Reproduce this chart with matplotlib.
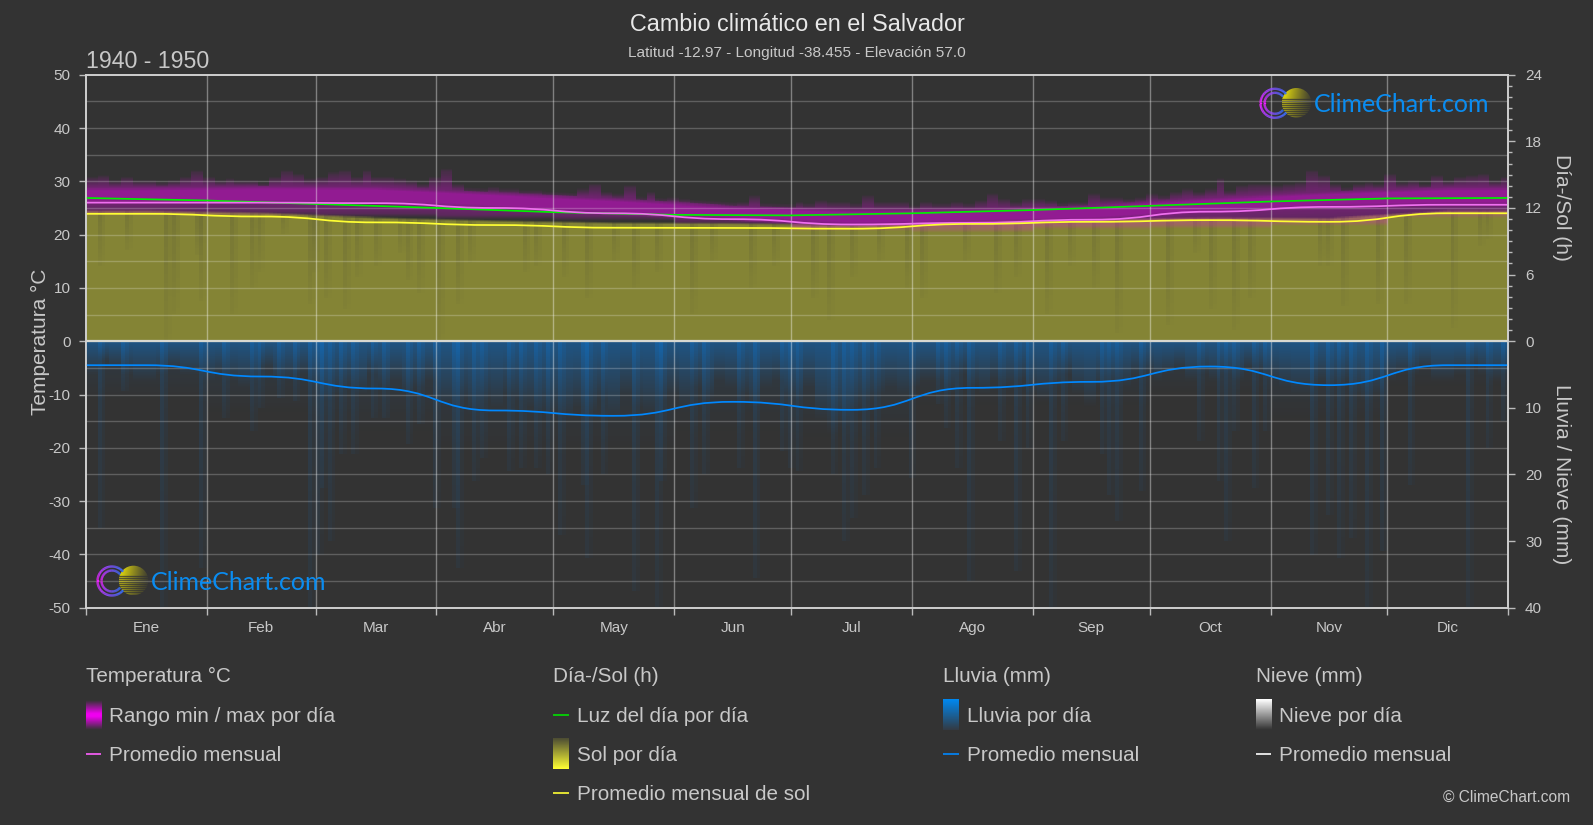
"""
Climate chart for Salvador, dark ClimeChart style
"""
import numpy as np
import matplotlib
matplotlib.use("Agg")
import matplotlib.pyplot as plt
from matplotlib.patches import Circle, PathPatch
from matplotlib.path import Path
from matplotlib.ticker import FixedLocator

plt.rcParams['font.family'] = ['Liberation Sans', 'DejaVu Sans']
plt.rcParams['axes.unicode_minus'] = False

BG = '#333333'
TXT = '#c8c8c8'
W, H = 1593, 825

months = ['Ene', 'Feb', 'Mar', 'Abr', 'May', 'Jun', 'Jul', 'Ago', 'Sep', 'Oct', 'Nov', 'Dic']
month_start = [0, 31, 59, 90, 120, 151, 181, 212, 243, 273, 304, 334, 365]

# monthly means
temp_mean = [26.0, 26.0, 25.9, 25.0, 24.0, 22.9, 21.9, 22.2, 22.8, 24.3, 25.2, 25.6]
sun_mean_h = [11.47, 11.23, 10.7, 10.46, 10.22, 10.2, 10.13, 10.56, 10.75, 10.9, 10.75, 11.52]
rain_mean_mm = [3.6, 5.3, 7.1, 10.4, 11.2, 9.1, 10.3, 7.0, 6.1, 3.8, 6.6, 3.6]
snow_mean_mm = [0, 0, 0, 0, 0, 0, 0, 0, 0, 0, 0, 0]

# daylight hours at month starts (last = Dec 31)
daylight_h = [12.9, 12.67, 12.36, 12.0, 11.62, 11.38, 11.33, 11.52, 11.81, 12.19, 12.58, 12.86, 12.9]

# top of the daily max haze, about every 3 days
tmax_top = [
    30.9, 31.2, 30.25, 30.9, 30.25, 30.25, 29.9, 30.25, 30.9, 32.1, 30.9, 30.25, 30.6, 30.25,
    30.25, 29.6, 30.9, 32.1, 31.5, 30.6, 30.9, 31.8, 32.1, 30.9, 32.1, 30.9, 30.9, 30.6, 30.25,
    29.6, 30.9, 32.4, 29.6, 28.7, 28.7, 29.0, 28.7, 28.7, 28.4, 28.4, 28.1, 27.75,
    27.75, 28.7, 29.6, 28.1, 27.75, 29.3, 27.1, 28.1, 26.2, 27.1, 26.8, 26.2, 26.2, 25.9, 25.6,
    26.2, 27.4, 25.9, 25.6, 25.6, 26.2, 25.9, 26.5, 26.2, 26.2, 25.9, 27.4, 26.2, 26.2, 26.2,
    25.6, 26.2, 25.9, 25.9, 26.2, 25.9, 26.5, 27.75, 26.8, 26.2, 26.8, 26.8,
    26.5, 25.9, 26.2, 26.2, 27.75, 27.1, 27.1, 26.8, 27.1, 27.75, 27.4, 28.1, 28.7, 28.1, 28.7,
    30.6, 28.4, 29.3, 29.6, 29.6, 29.3, 29.6, 29.9, 32.1, 31.2, 29.6, 28.7, 29.6, 29.9, 29.6,
    31.5, 29.9, 30.25, 29.6, 31.2, 30.25, 30.9, 31.2, 31.5, 30.25, 30.9,
]
# top of the saturated part of the band, per month
tmax_dense = [28.4, 28.6, 28.5, 27.4, 26.3, 24.9, 24.2, 24.3, 25.0, 26.5, 27.6, 28.4]
# bottom of the daily min band, per month
tmin_low = [23.4, 23.4, 23.2, 22.8, 22.5, 21.8, 20.6, 20.3, 20.8, 21.0, 21.5, 23.0]
# top of the sun block, per month
sun_top = [24.6, 24.2, 23.3, 22.7, 22.3, 22.2, 21.9, 22.5, 23.0, 23.3, 23.2, 24.6]

# dark streaks in the sun block: day and where they end (temperature axis units)
sun_dip_day = [3, 10, 20, 22, 28, 29, 37, 42, 44, 50, 57, 58, 61, 66, 69, 74, 80, 82, 85, 90, 95, 98,
               112, 115, 122, 128, 135, 140, 146, 155, 160, 170, 176, 186, 190, 196, 203, 210, 214,
               225, 233, 238, 246, 252, 258, 264, 277, 284, 288, 294, 298, 316, 318, 322, 331, 338,
               350, 357, 359]
sun_dip_low = [14, 17, 0, 5, 16, 7.5, 5, 10, 13, 20, 7, 13, 8, 6, 12, 14, 16.5, 11.5, 9, 0, 7, 14.6,
               13, 14, 12, 8, 15, 10, 13, 5, 15, 10, 14, 8, 4, 12, 15, 10, 8,
               15, 9, 12, 5, 14, 10, 1.5, 3, 16.5, 6, 2, 8, 14, 14, 6.5, 7, 7,
               2.5, 17.7, 19]

# dense part of the daily rain, about every 3 days (mm)
rain_dense = [
    5, 3, 4, 5, 6, 6, 5, 4, 5, 5,
    6, 5, 6, 7, 6, 4, 6, 6, 5, 7,
    9, 8, 7, 8, 5, 7, 6, 8, 7, 6,
    10, 10, 9, 11, 9, 10, 8, 9, 10, 11,
    11, 12, 10, 11, 9, 12, 8, 10, 11, 9,
    8, 10, 7, 9, 6, 7, 8, 10, 7, 6,
    8, 9, 7, 12, 14, 13, 10, 9, 8, 7, 8,
    7, 6, 6, 8, 5, 7, 8, 6, 7, 6,
    8, 9, 7, 5, 8, 10, 7, 6, 7, 5,
    5, 6, 5, 4, 6, 5, 6, 5, 6, 4, 5,
    6, 7, 8, 8, 6, 7, 6, 8, 9, 8,
    6, 5, 5, 4, 6, 6, 5, 4, 5, 6, 5,
]
# faint skirt below the dense part, per month (mm)
rain_skirt = [9, 11, 14, 17, 17, 14, 15, 10, 10, 8, 12, 7]

# single deep rain days (day of year, mm)
rain_peak_day = [3, 9, 19, 29, 35, 42, 44, 49, 53, 57, 59, 60, 62, 65, 68, 73, 76, 82, 85, 89, 94, 95,
                 99, 101, 108, 111, 115, 118, 121, 127, 128, 132, 140, 146, 147, 155, 158, 167, 171,
                 178, 180, 182, 191, 194, 196, 199, 202, 211, 218, 220, 223, 226, 234, 238, 241,
                 247, 250, 260, 262, 264, 270, 285, 290, 292, 294, 299, 302, 314, 318, 321, 324,
                 328, 332, 339, 354, 359, 363]
rain_peak_mm = [28, 7.5, 40, 34, 11.5, 13.5, 10, 8.5, 9, 40, 32, 22, 30, 17, 17, 11.5, 11.5, 15.5, 12.5, 25, 25, 34,
                21, 17.5, 19.5, 19, 19, 20, 29, 21.5, 32.5, 20, 37.5, 40, 21, 25, 20, 19, 35.5,
                16.5, 19, 19.5, 20, 30, 26.5, 23, 19, 20.5, 9.5, 13, 19, 36, 15, 34.5, 16,
                40, 15, 17, 23, 27, 22.5, 15, 21, 30, 13.5, 22, 13.5, 32, 26, 32.5, 29.5,
                40, 31.5, 21.5, 40, 16, 12]

H_TO_T = 50 / 24
MM_TO_T = 50 / 40


def month_smooth(ax, values, color, lw=1.25, zorder=6):
    """Smooth line through the mid month values, flat at each month centre"""
    mids = [(month_start[i] + month_start[i + 1]) / 2 for i in range(12)]
    xs = [0] + mids + [365]
    ys = [values[0]] + list(values) + [values[-1]]
    verts = [(xs[0], ys[0])]
    codes = [Path.MOVETO]
    for i in range(len(xs) - 1):
        xm = (xs[i] + xs[i + 1]) / 2
        verts += [(xm, ys[i]), (xm, ys[i + 1]), (xs[i + 1], ys[i + 1])]
        codes += [Path.CURVE4] * 3
    ax.add_patch(PathPatch(Path(verts, codes), fill=False, edgecolor=color, lw=lw, zorder=zorder,
                           capstyle='butt', clip_on=True))


def rgba_layer(color, alpha):
    rgb = matplotlib.colors.to_rgb(color)
    img = np.zeros(alpha.shape + (4,))
    img[..., 0], img[..., 1], img[..., 2] = rgb
    img[..., 3] = np.clip(alpha, 0, 1)
    return img


def per_day(values):
    idx = (np.arange(365) * len(values) / 365).astype(int)
    return np.asarray(values, dtype=float)[idx]


def month_of_day():
    return np.searchsorted(month_start, np.arange(365), side='right') - 1


fig = plt.figure(figsize=(W / 100, H / 100), dpi=100, facecolor=BG)
L, R, T, B = 85.7, 1508.3, 74.7, 607.7
ax = fig.add_axes([L / W, 1 - B / H, (R - L) / W, (B - T) / H], facecolor=BG)
ax.set_xlim(0, 365)
ax.set_ylim(-50, 50)

days = np.arange(365) + 0.5
mids = np.array([(month_start[i] + month_start[i + 1]) / 2 for i in range(12)])
mod = month_of_day()

# sun block
ys = np.arange(0, 26, 0.1) + 0.05
top_day = np.interp(days, mids, sun_top)
sun_a = np.zeros((len(ys), 365))
for d in range(365):
    sun_a[:, d] = 0.42 * np.clip((top_day[d] - ys) / 0.5, 0, 1)
for day, low in zip(sun_dip_day, sun_dip_low):
    for d, k in ((day, 0.17), (day + 1, 0.08)):
        d = min(d, 364)
        ramp = np.clip((ys - low) / max(top_day[d] - low, 1), 0, 1)
        sun_a[:, d] *= 1 - k * (0.2 + 0.8 * ramp) * (ys > low)
ax.imshow(rgba_layer('#f6f63a', sun_a), extent=(0, 365, 0, 26), origin='lower', aspect='auto',
          interpolation='nearest', zorder=1)

# daily min / max band
ys = np.arange(15, 36, 0.1) + 0.05
tops = per_day(tmax_top)
means = np.interp(days, mids, temp_mean)
bright = np.interp(days, mids, tmax_dense)
lows = np.asarray(tmin_low)[mod]
temp_a = np.zeros((len(ys), 365))
for d in range(365):
    m, lo, t, b = means[d], lows[d], tops[d], bright[d]
    t = max(t, b + 1.2)
    nodes = [lo, min(lo + 0.8, m - 0.4), m - 0.3, m + 0.5, b - 0.2, b + 0.4, t - 0.6, t]
    temp_a[:, d] = np.interp(ys, nodes, [0, 0.2, 0.3, 0.47, 0.47, 0.3, 0.1, 0], left=0, right=0)
ax.imshow(rgba_layer('#ff00ff', temp_a), extent=(0, 365, 15, 36), origin='lower', aspect='auto',
          interpolation='nearest', zorder=2)

# daily rain
depth = np.arange(0, 40, 0.1) + 0.05
dense = per_day(rain_dense)
skirt = np.asarray(rain_skirt, dtype=float)[mod]
rain_a = np.zeros((len(depth), 365))
for d in range(365):
    rain_a[:, d] = 0.3 * np.clip(1 - depth / dense[d], 0, 1) + 0.1 * np.clip(1 - depth / skirt[d], 0, 1)
for day, mm in zip(rain_peak_day, rain_peak_mm):
    for d, a in ((day, 0.13), (day + 1, 0.06)):
        d = min(d, 364)
        rain_a[:, d] += a * (depth < mm) * (1 - 0.6 * depth / mm)
ax.imshow(rgba_layer('#0088ff', rain_a), extent=(0, 365, 0, -50), origin='lower', aspect='auto',
          interpolation='nearest', zorder=3)
ax.set_xlim(0, 365)
ax.set_ylim(-50, 50)

# grid on top of the bands
for y in np.arange(-45, 50, 5):
    ax.axhline(y, color='white', alpha=0.22, lw=1.0, zorder=4)
for x in month_start[1:-1]:
    ax.axvline(x, color='white', alpha=0.38, lw=1.0, zorder=4)

# monthly lines
ax.plot(month_start, np.array(daylight_h) * H_TO_T, color='#00f000', lw=1.25, zorder=6)
month_smooth(ax, temp_mean, '#f070f0')
month_smooth(ax, np.array(sun_mean_h) * H_TO_T, '#ffff33')
month_smooth(ax, np.array(rain_mean_mm) * -MM_TO_T, '#0088ff')
ax.plot(month_start, np.zeros(13), color='#d8d8d0', lw=1.6, zorder=6)

for s in ax.spines.values():
    s.set_color('#cfcfcf')
    s.set_linewidth(1.2)

ax.xaxis.set_major_locator(FixedLocator(month_start))
ax.set_xticklabels([])
ax.xaxis.set_minor_locator(FixedLocator(list(mids)))
ax.set_xticklabels(months, minor=True)
ax.tick_params(axis='x', which='major', length=5, width=1, color='#bbbbbb')
ax.tick_params(axis='x', which='minor', length=0, pad=9.5, labelsize=11, labelcolor=TXT)
ax.set_yticks(np.arange(-50, 51, 10))
ax.tick_params(axis='y', length=5, width=1, color='#bbbbbb', labelsize=11, labelcolor=TXT, pad=6)

ax2 = ax.twinx()
ax2.set_ylim(-50, 50)
hours = [0, 6, 12, 18, 24]
mms = [10, 20, 30, 40]
ax2.set_yticks([h * H_TO_T for h in hours] + [-m * MM_TO_T for m in mms])
ax2.set_yticklabels([str(h) for h in hours] + [str(m) for m in mms])
ax2.yaxis.set_minor_locator(FixedLocator([h * H_TO_T for h in range(25) if h % 6]))
ax2.tick_params(axis='y', which='major', length=5, width=1, color='#bbbbbb', labelsize=11,
                labelcolor=TXT, pad=7)
ax2.tick_params(axis='y', which='minor', length=3, width=1, color='#bbbbbb')
for s in ax2.spines.values():
    s.set_color('#cfcfcf')
    s.set_linewidth(1.2)

# pixel overlay for texts, legend and logos
px = fig.add_axes([0, 0, 1, 1], facecolor='none', zorder=10)
px.axis('off')


def restore_px():
    px.set_xlim(0, W)
    px.set_ylim(H, 0)


restore_px()


def draw_logo(dx, dy):
    t = np.linspace(np.radians(40), np.radians(320), 70)
    for r in (14.5, 10.5):
        x = 1275 + dx + r * np.cos(t)
        y = 103.3 + dy + r * np.sin(t)
        for i in range(len(t) - 1):
            f = abs(t[i] - np.pi) / (np.radians(140))
            c = (0.95 - 0.75 * f, 0.12 + 0.33 * f, 1.0)
            px.plot(x[i:i + 2], y[i:i + 2], color=c, lw=1.7, solid_capstyle='butt')
    # sun disc
    cx, cy, r = 1296.5 + dx, 102.8 + dy, 14.8
    n = 60
    img = np.zeros((n, n, 4))
    rows = np.linspace(0, 1, n)
    cols = np.linspace(0, 1, n)
    for i in range(n):
        img[i, :, 0] = 0.90
        img[i, :, 1] = 0.86
        img[i, :, 2] = 0.05
        img[i, :, 3] = np.clip(1.1 - cols, 0, 1) ** 1.2 * (0.7 + 0.3 * (1 - rows[i]))
        if rows[i] > 0.35 and int(rows[i] * 30) % 2 == 1:
            img[i, :, 3] = 0
    im = px.imshow(img, extent=(cx - r, cx + r, cy + r, cy - r), aspect='auto', interpolation='bilinear')
    im.set_clip_path(Circle((cx, cy), r, transform=px.transData))
    px.text(1314 + dx, 112 + dy, 'ClimeChart.com', color='#0a8cf0', fontsize=18, family='Lato',
            ha='left', va='baseline')


draw_logo(0, 0)
draw_logo(-1163, 477.7)


def swatch(x, y0, y1, colors, stops):
    rgb = np.array([matplotlib.colors.to_rgb(c) for c in colors])
    s = np.linspace(0, 1, 40)
    img = np.stack([np.interp(s, stops, rgb[:, k]) for k in range(3)], axis=1)[:, None, :]
    px.imshow(img, extent=(x, x + 15.3, y1, y0), aspect='auto', interpolation='bilinear')


def legend_line(x, y, color):
    px.plot([x, x + 15.3], [y, y], color=color, lw=1.2, solid_capstyle='butt')


def legend_text(x, y, s):
    px.text(x, y + 1.5, s, color=TXT, fontsize=14.85, ha='left', va='center')


# legend, first column
legend_text(85.7, 675, 'Temperatura °C')
swatch(85.7, 700, 730, ['#333333', '#f000f0', '#f000f0', '#333333'], [0, 0.45, 0.55, 1])
legend_text(109, 715, 'Rango min / max por día')
legend_line(85.7, 754, '#ff60ff')
legend_text(109, 754, 'Promedio mensual')

# second column
legend_text(553.3, 675, 'Día-/Sol (h)')
legend_line(553.3, 715, '#00e000')
legend_text(577, 715, 'Luz del día por día')
swatch(553.3, 738, 769, ['#4d4d33', '#ffff33'], [0, 1])
legend_text(577, 754, 'Sol por día')
legend_line(553.3, 793, '#ffff33')
legend_text(577, 793, 'Promedio mensual de sol')

# third column
legend_text(943.3, 675, 'Lluvia (mm)')
swatch(943.3, 699, 730, ['#0088f0', '#333b44'], [0, 1])
legend_text(967, 715, 'Lluvia por día')
legend_line(943.3, 754, '#0088ff')
legend_text(967, 754, 'Promedio mensual')

# fourth column
legend_text(1256, 675, 'Nieve (mm)')
swatch(1256, 699, 730, ['#ffffff', '#333333'], [0, 1])
legend_text(1279, 715, 'Nieve por día')
legend_line(1256, 754, '#ffffff')
legend_text(1279, 754, 'Promedio mensual')

# titles
px.text(797, 24.5, 'Cambio climático en el Salvador', color='#e8e8e8', fontsize=16.8, ha='center', va='center')
px.text(797, 53, 'Latitud -12.97 - Longitud -38.455 - Elevación 57.0', color=TXT, fontsize=11.1, ha='center', va='center')
px.text(85.7, 61, '1940 - 1950', color=TXT, fontsize=16.7, ha='left', va='center')
px.text(1570, 797.5, '© ClimeChart.com', color=TXT, fontsize=11.2, ha='right', va='center')
px.text(40, 342, 'Temperatura °C', color=TXT, fontsize=15, rotation=90, ha='center', va='center')
px.text(1561, 207.5, 'Día-/Sol (h)', color=TXT, fontsize=15, rotation=270, ha='center', va='center')
px.text(1561, 474, 'Lluvia / Nieve (mm)', color=TXT, fontsize=15, rotation=270, ha='center', va='center')
restore_px()

fig.savefig('out.png', dpi=100, facecolor=BG)
plt.close(fig)
